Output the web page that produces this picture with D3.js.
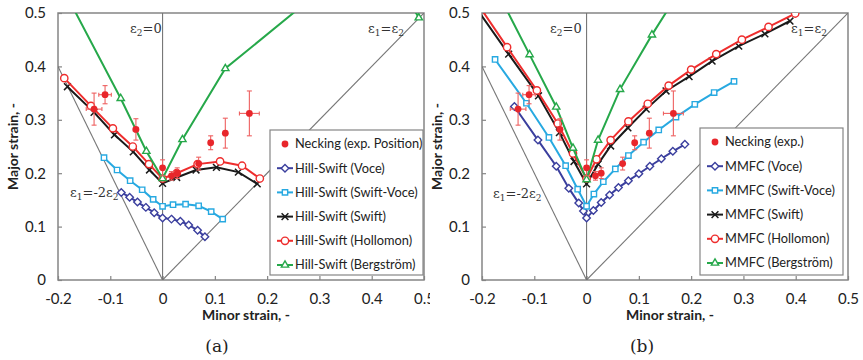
<!DOCTYPE html>
<html>
<head>
<meta charset="utf-8">
<script src="https://cdn.jsdelivr.net/npm/d3@7"></script>
<style>
  body { margin: 0; background: #fff; }
  svg { display: block; }
</style>
</head>
<body>
<svg id="chart" width="863" height="360"></svg>
<script>
// ---- axis ticks ----
const minorTicks = [-0.2, -0.1, 0, 0.1, 0.2, 0.3, 0.4, 0.5];
const majorTicks = [0, 0.1, 0.2, 0.3, 0.4, 0.5];

// ---- experimental necking points (minor, major) with error half-widths ----
const expMinor    = [-0.131, -0.110, -0.051, 0.000, 0.017, 0.028, 0.069, 0.092, 0.120, 0.166];
const expMajor    = [ 0.320,  0.347,  0.282, 0.210, 0.195, 0.200, 0.218, 0.257, 0.275, 0.312];
const expMinorErr = [ 0.015,  0.012,  0.005, 0.003, 0.003, 0.003, 0.003, 0.003, 0.003, 0.019];
const expMajorErr = [ 0.030,  0.017,  0.020, 0.015, 0.008, 0.010, 0.012, 0.013, 0.028, 0.042];

// ---- Hill-Swift forming limit curves: [minor, major] ----
const hsVoce = [[-0.079,0.164],[-0.063,0.155],[-0.048,0.146],[-0.032,0.136],[-0.016,0.126],[0,0.116],
  [0.017,0.114],[0.034,0.110],[0.050,0.103],[0.067,0.093],[0.081,0.081]];
const hsSwiftVoce = [[-0.112,0.229],[-0.087,0.206],[-0.062,0.186],[-0.039,0.169],[-0.018,0.151],[0,0.138],
  [0.020,0.141],[0.044,0.142],[0.069,0.139],[0.093,0.128],[0.115,0.114]];
const hsSwift = [[-0.182,0.362],[-0.131,0.314],[-0.092,0.272],[-0.056,0.240],[-0.025,0.206],[0,0.181],
  [0.027,0.192],[0.064,0.206],[0.103,0.211],[0.145,0.202],[0.181,0.180]];
const hsHollomon = [[-0.188,0.378],[-0.137,0.326],[-0.095,0.284],[-0.057,0.250],[-0.026,0.217],[0,0.190],
  [0.027,0.200],[0.067,0.217],[0.110,0.222],[0.152,0.214],[0.186,0.190]];
const hsBergstrom = [[-0.190,0.545],[-0.080,0.340],[-0.031,0.241],[0,0.190],[0.038,0.263],[0.120,0.396],
  [0.300,0.540],[0.450,0.560],[0.490,0.491]];

// ---- MMFC forming limit curves: [minor, major] ----
const mmVoce = [[-0.138,0.325],[-0.093,0.262],[-0.058,0.213],[-0.034,0.172],[-0.015,0.144],[-0.006,0.129],[0,0.116],
  [0.013,0.130],[0.028,0.145],[0.044,0.159],[0.061,0.173],[0.080,0.186],[0.100,0.199],[0.121,0.213],
  [0.143,0.227],[0.165,0.241],[0.188,0.254]];
const mmSwiftVoce = [[-0.175,0.413],[-0.115,0.331],[-0.072,0.267],[-0.040,0.214],[-0.017,0.170],[0,0.138],
  [0.014,0.161],[0.032,0.184],[0.055,0.208],[0.080,0.233],[0.109,0.258],[0.138,0.281],[0.171,0.305],
  [0.207,0.329],[0.244,0.351],[0.282,0.372]];
const mmSwift = [[-0.215,0.515],[-0.149,0.423],[-0.092,0.345],[-0.052,0.276],[-0.024,0.222],[0,0.180],
  [0.022,0.217],[0.046,0.251],[0.079,0.285],[0.114,0.320],[0.152,0.354],[0.196,0.381],[0.240,0.410],
  [0.291,0.438],[0.341,0.461],[0.389,0.485]];
const mmHollomon = [[-0.215,0.527],[-0.152,0.436],[-0.095,0.355],[-0.055,0.293],[-0.026,0.237],[0,0.190],
  [0.019,0.226],[0.046,0.262],[0.080,0.297],[0.117,0.330],[0.157,0.364],[0.200,0.394],[0.248,0.423],
  [0.297,0.450],[0.348,0.474],[0.399,0.499]];
const mmBergstrom = [[-0.168,0.535],[-0.109,0.422],[-0.058,0.324],[-0.026,0.247],[0,0.188],
  [0.022,0.262],[0.064,0.357],[0.125,0.459],[0.190,0.560]];

// ---- legend labels ----
const legendA = ["Necking (exp. Position)", "Hill-Swift (Voce)", "Hill-Swift (Swift-Voce)",
  "Hill-Swift (Swift)", "Hill-Swift (Hollomon)", "Hill-Swift (Bergström)"];
const legendB = ["Necking (exp.)", "MMFC (Voce)", "MMFC (Swift-Voce)",
  "MMFC (Swift)", "MMFC (Hollomon)", "MMFC (Bergström)"];

// ---- styling of each curve ----
const styles = [
  { color: "#3b3f9e", shape: d3.symbolDiamond2 || d3.symbolDiamond, size: 36 },
  { color: "#27a9e1", shape: d3.symbolSquare2 || d3.symbolSquare, size: 36 },
  { color: "#1a1a1a", shape: d3.symbolTimes || d3.symbolX || d3.symbolCross, size: 32, stroke: true },
  { color: "#ee2d2d", shape: d3.symbolCircle, size: 42 },
  { color: "#26a84a", shape: d3.symbolTriangle2 || d3.symbolTriangle, size: 38 }
];
const expColor = "#e8262b";
const expBarColor = "#ee6060";
const refColor = "#767676";
const frameColor = "#858585";
const sans = "Lato, 'Open Sans', 'DejaVu Sans', sans-serif";
const serif = "'DejaVu Serif', 'Liberation Serif', serif";

const svg = d3.select("#chart");

function drawPanel(opt) {
  const g = svg.append("g").attr("clip-path", `url(#${opt.id}-panel)`);
  svg.append("clipPath").attr("id", `${opt.id}-panel`)
    .append("rect").attr("x", opt.panelX0).attr("y", 0).attr("width", opt.panelX1 - opt.panelX0).attr("height", 360);

  const x = d3.scaleLinear().domain([-0.2, 0.5]).range([opt.left, opt.right]);
  const y = d3.scaleLinear().domain([0, 0.5]).range([280, 13]);

  g.append("clipPath").attr("id", `${opt.id}-plot`)
    .append("rect").attr("x", x(-0.2)).attr("y", y(0.5))
    .attr("width", x(0.5) - x(-0.2)).attr("height", y(0) - y(0.5));

  // axes with inward ticks
  const xAxis = g.append("g").attr("transform", `translate(0,${y(0)})`)
    .call(d3.axisBottom(x).tickValues(minorTicks).tickSize(-4).tickPadding(13).tickFormat(d => String(d)));
  const yAxis = g.append("g").attr("transform", `translate(${x(-0.2)},0)`)
    .call(d3.axisLeft(y).tickValues(majorTicks).tickSize(-4).tickPadding(12).tickFormat(d => String(d)));
  [xAxis, yAxis].forEach(a => {
    a.select(".domain").remove();
    a.selectAll(".tick line").attr("stroke", frameColor).attr("stroke-width", 1.2);
    a.selectAll(".tick text").attr("font-family", sans).attr("font-size", 15).attr("fill", "#222");
  });

  // frame
  g.append("rect").attr("x", x(-0.2)).attr("y", y(0.5))
    .attr("width", x(0.5) - x(-0.2)).attr("height", y(0) - y(0.5))
    .attr("fill", "none").attr("stroke", frameColor).attr("stroke-width", 1.5);

  const plot = g.append("g").attr("clip-path", `url(#${opt.id}-plot)`);

  // strain-path reference lines
  const refs = [[[0, 0], [0, 0.5]], [[0, 0], [0.5, 0.5]], [[0, 0], [-0.2, 0.4]]];
  const line = d3.line().x(d => x(d[0])).y(d => y(d[1]));
  plot.selectAll("path.ref").data(refs).join("path").attr("class", "ref")
    .attr("d", line).attr("fill", "none").attr("stroke", refColor).attr("stroke-width", 1.1);

  const labels = g.append("g").attr("font-family", serif).attr("font-size", 13).attr("fill", "#333");
  function epsLabel(px, py, parts) {
    const t = labels.append("text").attr("x", px).attr("y", py);
    parts.forEach(p => {
      const s = t.append("tspan").text(p[0]);
      if (p[1]) s.attr("font-size", 9).attr("dy", 3);
      else if (p[2]) s.attr("dy", -3);
    });
  }
  epsLabel(opt.e2Label[0], opt.e2Label[1], [["ε"], ["2", true], ["=0", false, true]]);
  epsLabel(opt.eqLabel[0], opt.eqLabel[1], [["ε"], ["1", true], ["=ε", false, true], ["2", true]]);
  epsLabel(opt.psLabel[0], opt.psLabel[1], [["ε"], ["1", true], ["=-2ε", false, true], ["2", true]]);

  // model curves
  opt.curves.forEach((c, i) => {
    const st = styles[i];
    plot.append("path").datum(c).attr("d", line).attr("fill", "none")
      .attr("stroke", st.color).attr("stroke-width", 2);
    plot.selectAll(`path.m${i}`).data(c).join("path").attr("class", `m${i}`)
      .attr("transform", d => `translate(${x(d[0])},${y(d[1])})`)
      .attr("d", d3.symbol(st.shape, st.size))
      .attr("fill", st.stroke ? "none" : "#fff")
      .attr("stroke", st.color).attr("stroke-width", st.stroke ? 1.5 : 1.4);
  });

  // experimental points with error bars
  const ex = plot.append("g");
  expMinor.forEach((mx, i) => {
    const cx = x(mx), cy = y(expMajor[i]);
    const y0 = y(expMajor[i] - expMajorErr[i]), y1 = y(expMajor[i] + expMajorErr[i]);
    const x0 = x(mx - expMinorErr[i]), x1 = x(mx + expMinorErr[i]);
    const eb = ex.append("g").attr("stroke", expBarColor).attr("stroke-width", 1.1);
    eb.append("line").attr("x1", cx).attr("x2", cx).attr("y1", y0).attr("y2", y1);
    eb.append("line").attr("x1", cx - 2.5).attr("x2", cx + 2.5).attr("y1", y0).attr("y2", y0);
    eb.append("line").attr("x1", cx - 2.5).attr("x2", cx + 2.5).attr("y1", y1).attr("y2", y1);
    eb.append("line").attr("x1", x0).attr("x2", x1).attr("y1", cy).attr("y2", cy);
    eb.append("line").attr("x1", x0).attr("x2", x0).attr("y1", cy - 2).attr("y2", cy + 2);
    eb.append("line").attr("x1", x1).attr("x2", x1).attr("y1", cy - 2).attr("y2", cy + 2);
    ex.append("circle").attr("cx", cx).attr("cy", cy).attr("r", 3.4).attr("fill", expColor);
  });

  // legend
  const lg = g.append("g");
  const L = opt.legend;
  lg.append("rect").attr("x", L.x).attr("y", L.y).attr("width", L.w).attr("height", L.h)
    .attr("fill", "#fff").attr("stroke", frameColor).attr("stroke-width", 1.2);
  opt.legendLabels.forEach((lab, i) => {
    const ry = L.y + 14 + i * 24.2;
    const mx = L.x + 15;
    if (i === 0) {
      lg.append("circle").attr("cx", mx).attr("cy", ry).attr("r", 3.4).attr("fill", expColor);
    } else {
      const st = styles[i - 1];
      lg.append("line").attr("x1", mx - 8).attr("x2", mx + 8).attr("y1", ry).attr("y2", ry)
        .attr("stroke", st.color).attr("stroke-width", 2);
      lg.append("path").attr("transform", `translate(${mx},${ry})`)
        .attr("d", d3.symbol(st.shape, st.size))
        .attr("fill", st.stroke ? "none" : "#fff")
        .attr("stroke", st.color).attr("stroke-width", st.stroke ? 1.5 : 1.4);
    }
    lg.append("text").attr("x", mx + 10).attr("y", ry).attr("dy", "0.35em")
      .attr("font-family", sans).attr("font-size", 12.8).attr("fill", "#222").text(lab);
  });

  // axis titles and caption
  g.append("text").attr("x", (x(-0.2) + x(0.5)) / 2 + 5).attr("y", 320)
    .attr("text-anchor", "middle").attr("font-family", sans).attr("font-weight", "bold")
    .attr("font-size", 14).attr("fill", "#222").text("Minor strain, -");
  g.append("text").attr("transform", `translate(${x(-0.2) - 40},${(y(0) + y(0.5)) / 2}) rotate(-90)`)
    .attr("text-anchor", "middle").attr("font-family", sans).attr("font-weight", "bold")
    .attr("font-size", 14).attr("fill", "#222").text("Major strain, -");
  g.append("text").attr("x", opt.captionX).attr("y", 352).attr("text-anchor", "middle")
    .attr("font-family", serif).attr("font-size", 17).attr("fill", "#222").text(opt.caption);
}

drawPanel({
  id: "pa", panelX0: 0, panelX1: 430, left: 58, right: 424,
  curves: [hsVoce, hsSwiftVoce, hsSwift, hsHollomon, hsBergstrom],
  legendLabels: legendA, legend: { x: 270, y: 130, w: 153, h: 145 },
  e2Label: [130, 33], eqLabel: [368, 33], psLabel: [70, 197],
  caption: "(a)", captionX: 217
});
drawPanel({
  id: "pb", panelX0: 430, panelX1: 863, left: 482, right: 848,
  curves: [mmVoce, mmSwiftVoce, mmSwift, mmHollomon, mmBergstrom],
  legendLabels: legendB, legend: { x: 700, y: 128, w: 143, h: 147 },
  e2Label: [550, 33], eqLabel: [791, 33], psLabel: [493, 198],
  caption: "(b)", captionX: 642
});
</script>
</body>
</html>
